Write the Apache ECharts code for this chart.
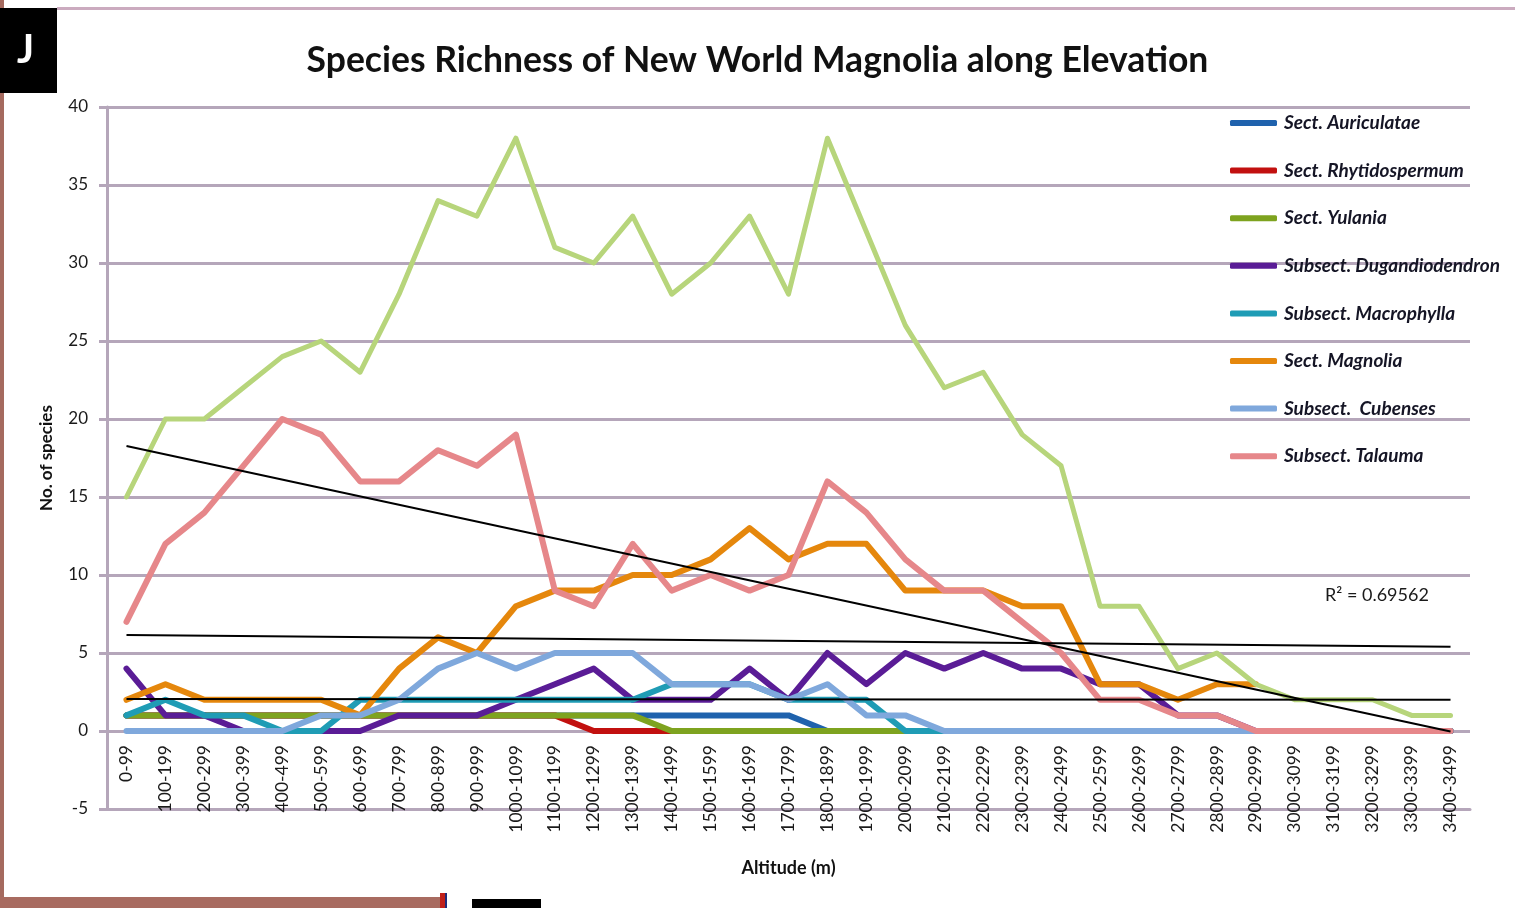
<!DOCTYPE html>
<html>
<head>
<meta charset="utf-8">
<title>Species Richness of New World Magnolia along Elevation</title>
<script src="https://cdn.jsdelivr.net/npm/echarts@6/dist/echarts.min.js"></script>
<style>
  html, body { margin: 0; padding: 0; background: #ffffff; }
  #chart { width: 1515px; height: 908px; }
</style>
</head>
<body>
<div id="chart"></div>
<script>
// Altitude bands (m)
const altitudeBands = [
  '0-99', '100-199', '200-299', '300-399', '400-499', '500-599', '600-699',
  '700-799', '800-899', '900-999', '1000-1099', '1100-1199', '1200-1299',
  '1300-1399', '1400-1499', '1500-1599', '1600-1699', '1700-1799',
  '1800-1899', '1900-1999', '2000-2099', '2100-2199', '2200-2299',
  '2300-2399', '2400-2499', '2500-2599', '2600-2699', '2700-2799',
  '2800-2899', '2900-2999', '3000-3099', '3100-3199', '3200-3299',
  '3300-3399', '3400-3499'
];

// Number of species per altitude band, by section / subsection
const auriculatae     = [1,1,1,1,1,1,1,1,1,1,1,1,1,1,1,1,1,1,0,0,0,0,0,0,0,0,0,0,0,0,0,0,0,0,0];
const rhytidospermum  = [1,1,1,1,1,1,1,1,1,1,1,1,0,0,0,0,0,0,0,0,0,0,0,0,0,0,0,0,0,0,0,0,0,0,0];
const yulania         = [1,1,1,1,1,1,1,1,1,1,1,1,1,1,0,0,0,0,0,0,0,0,0,0,0,0,0,0,0,0,0,0,0,0,0];
const dugandiodendron = [4,1,1,0,0,0,0,1,1,1,2,3,4,2,2,2,4,2,5,3,5,4,5,4,4,3,3,1,1,0,0,0,0,0,0];
const macrophylla     = [1,2,1,1,0,0,2,2,2,2,2,2,2,2,3,3,3,2,2,2,0,0,0,0,0,0,0,0,0,0,0,0,0,0,0];
const magnolia        = [2,3,2,2,2,2,1,4,6,5,8,9,9,10,10,11,13,11,12,12,9,9,9,8,8,3,3,2,3,3,null,null,null,null,null];
const cubenses        = [0,0,0,0,0,1,1,2,4,5,4,5,5,5,3,3,3,2,3,1,1,0,0,0,0,0,0,0,0,0,0,0,0,0,0];
const talauma         = [7,12,14,17,20,19,16,16,18,17,19,9,8,12,9,10,9,10,16,14,11,9,9,7,5,2,2,1,1,0,0,0,0,0,0];
const allSpecies      = [15,20,20,22,24,25,23,28,34,33,38,31,30,33,28,30,33,28,38,32,26,22,23,19,17,8,8,4,5,3,2,2,2,1,1];

// Straight trend lines: value at the first and at the last band
const trendUpper = [6.15, 5.4];
const trendLower = [2.05, 2.0];
const rSquaredText = 'R² = 0.69562';

const legendNames = [
  'Sect. Auriculatae', 'Sect. Rhytidospermum', 'Sect. Yulania',
  'Subsect. Dugandiodendron', 'Subsect. Macrophylla', 'Sect. Magnolia',
  'Subsect.  Cubenses', 'Subsect. Talauma'
];
const groupData = [auriculatae, rhytidospermum, yulania, dugandiodendron,
                   macrophylla, magnolia, cubenses, talauma];
const groupColors = ['#1f62ad', '#c2100f', '#7ea31f', '#5a1c96',
                     '#1f9cb5', '#e5870c', '#7fa8dc', '#e6878a'];

// Least-squares line through a series, returned as its two end values
function linearFit(values) {
  const n = values.length;
  let sx = 0, sy = 0, sxy = 0, sxx = 0;
  values.forEach((v, i) => { sx += i; sy += v; sxy += i * v; sxx += i * i; });
  const slope = (n * sxy - sx * sy) / (n * sxx - sx * sx);
  const intercept = (sy - slope * sx) / n;
  return [intercept, intercept + slope * (n - 1)];
}

// Spread two end values over the band axis, gaps joined by connectNulls
function endpointsOnBands(ends) {
  return altitudeBands.map((_, i) =>
    i === 0 ? ends[0] : (i === altitudeBands.length - 1 ? ends[1] : null));
}

const FONT = 'Lato, "Open Sans", sans-serif';
const GRID_COLOR = '#b5a6ba';

const series = groupData.map((d, i) => ({
  name: legendNames[i],
  type: 'line',
  data: d,
  symbol: 'none',
  color: groupColors[i],
  lineStyle: { width: 6, color: groupColors[i], cap: 'round', join: 'round' },
  z: 2
}));

series.push({
  name: 'All species',
  type: 'line',
  data: allSpecies,
  symbol: 'none',
  color: '#b7d57b',
  lineStyle: { width: 5, color: '#b7d57b', cap: 'round', join: 'round' },
  z: 3
});

[linearFit(talauma), trendUpper, trendLower].forEach((ends, k) => {
  series.push({
    name: 'trend' + k,
    type: 'line',
    data: endpointsOnBands(ends),
    connectNulls: true,
    symbol: 'none',
    color: '#000000',
    lineStyle: { width: 2, color: '#000000' },
    z: 4
  });
});

const chart = echarts.init(document.getElementById('chart'), null, { renderer: 'canvas' });

chart.setOption({
  animation: false,
  backgroundColor: '#ffffff',
  title: {
    text: 'Species Richness of New World Magnolia along Elevation',
    left: 'center',
    top: 38,
    textStyle: { fontFamily: FONT, fontSize: 35.5, fontWeight: 'bold', color: '#111111' }
  },
  legend: {
    data: legendNames,
    orient: 'vertical',
    left: 1230,
    top: 113,
    padding: 0,
    icon: 'roundRect',
    itemWidth: 47,
    itemHeight: 6,
    itemGap: 27.6,
    textStyle: {
      fontFamily: FONT, fontSize: 19, fontStyle: 'italic', fontWeight: 'bold',
      color: '#151525', lineHeight: 20, padding: [0, 0, 0, 2]
    }
  },
  grid: { left: 107, right: 45, top: 107, bottom: 99, containLabel: false, outerBoundsMode: 'none' },
  xAxis: {
    type: 'category',
    data: altitudeBands,
    boundaryGap: true,
    name: 'Altitude (m)',
    nameLocation: 'middle',
    nameGap: 50,
    nameTextStyle: { fontFamily: FONT, fontSize: 18, fontWeight: 'bold', color: '#111111' },
    axisLine: { onZero: false, lineStyle: { color: GRID_COLOR, width: 3 } },
    axisTick: { show: false },
    axisLabel: {
      rotate: 90, interval: 0, margin: -64,
      fontFamily: FONT, fontSize: 17.5, color: '#1a1a1a'
    },
    splitLine: { show: false }
  },
  yAxis: {
    type: 'value',
    min: -5,
    max: 40,
    interval: 5,
    name: 'No. of species',
    nameLocation: 'middle',
    nameGap: 52,
    nameTextStyle: { fontFamily: FONT, fontSize: 17, fontWeight: 'bold', color: '#111111' },
    axisLine: { show: true, lineStyle: { color: GRID_COLOR, width: 3 } },
    axisTick: { show: true, length: 8, lineStyle: { color: GRID_COLOR, width: 3 } },
    axisLabel: { margin: 19, fontFamily: FONT, fontSize: 17, color: '#1a1a1a' },
    splitLine: { show: true, lineStyle: { color: GRID_COLOR, width: 3 } }
  },
  graphic: [
    // page frame
    { type: 'rect', left: 0, top: 0, shape: { width: 4, height: 908 }, style: { fill: '#a56a5f' }, silent: true },
    { type: 'rect', left: 57, top: 7, shape: { width: 1458, height: 3 }, style: { fill: '#cbabbf' }, silent: true },
    { type: 'rect', left: 0, top: 897, shape: { width: 440, height: 11 }, style: { fill: '#a86b60' }, silent: true },
    { type: 'rect', left: 440, top: 893, shape: { width: 5, height: 15 }, style: { fill: '#c0201a' }, silent: true },
    { type: 'rect', left: 445, top: 893, shape: { width: 2, height: 15 }, style: { fill: '#1f2c7a' }, silent: true },
    { type: 'rect', left: 472, top: 899, shape: { width: 69, height: 9 }, style: { fill: '#000000' }, silent: true },
    // panel letter
    { type: 'rect', left: 0, top: 8, shape: { width: 57, height: 85 }, style: { fill: '#000000' }, silent: true },
    {
      type: 'text', left: 17, top: 30,
      style: { text: 'J', fill: '#ffffff', font: 'bold 40px ' + FONT }, silent: true
    },
    // coefficient of determination of the Talauma trend
    {
      type: 'text', left: 1325, top: 586,
      style: { text: rSquaredText, fill: '#1a1a1a', font: '18px ' + FONT }, silent: true
    }
  ],
  series: series
});
</script>
</body>
</html>
